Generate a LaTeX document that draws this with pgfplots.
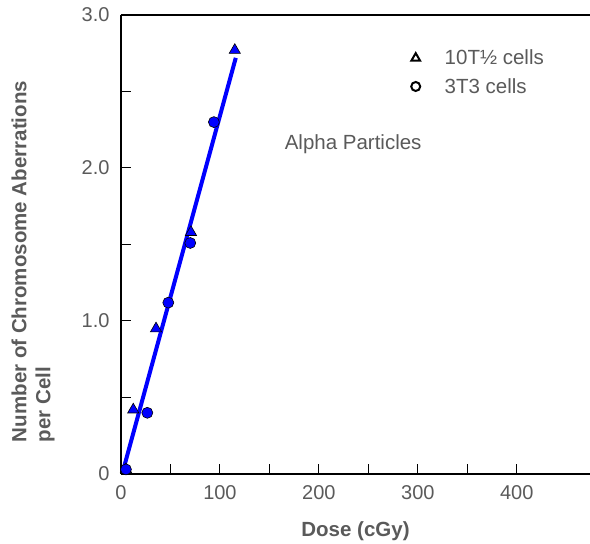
\documentclass[border=0pt]{standalone}
\usepackage{pgfplots}
\pgfplotsset{compat=1.18}
\usepackage{fontspec}
\setmainfont{Liberation Sans}
\definecolor{txtgray}{HTML}{5A5A5A}
\definecolor{pureblue}{RGB}{0,0,255}

\begin{document}
\begin{tikzpicture}
\begin{axis}[
    scale only axis,
    width=469pt, height=459pt,
    xmin=0, xmax=474,
    ymin=0, ymax=3,
    axis x line*=bottom,
    axis y line*=left,
    axis line style={black, line width=2.3pt},
    xtick={0,100,200,300,400},
    minor xtick={50,150,250,350},
    ytick={0,1,2,3},
    yticklabels={0,1.0,2.0,3.0},
    minor ytick={0.5,1.5,2.5},
    tick align=inside,
    major tick length=10pt,
    minor tick length=10pt,
    tick style={black, line width=1pt},
    /pgf/number format/assume math mode=true,
    ticklabel style={font=\fontsize{20}{24}\selectfont, text=txtgray},
    xticklabel style={yshift=-8pt},
    yticklabel style={xshift=-8pt},
    xlabel={\bfseries Dose (cGy)},
    xlabel style={at={(axis description cs:0.5,-0.124)}, anchor=center,
        font=\fontsize{20.5}{24}\selectfont, text=txtgray},
    ylabel={\bfseries Number of Chromosome Aberrations\\\bfseries per Cell},
    ylabel style={at={(axis description cs:-0.1876,0.463)}, anchor=center,
        align=left, font=\fontsize{20.5}{24}\selectfont, text=txtgray},
    legend style={at={(rel axis cs:0.612,0.933)}, anchor=north west, draw=none, fill=none,
        font=\fontsize{20.5}{24}\selectfont, text=txtgray, row sep=8pt},
    legend cell align=left,
    legend image code/.code={
        \path[draw=none, fill=none] (0pt,0pt) -- (27pt,0pt);
        \draw[#1] plot coordinates {(0pt,0pt)};
    },
    clip=false,
]
\addlegendimage{only marks, mark=triangle, mark size=5pt, black, line width=2pt}
\addlegendentry{10T½ cells}
\addlegendimage{only marks, mark=o, mark size=4.5pt, black, line width=2pt}
\addlegendentry{3T3 cells}

% 10T1/2 cells
\addplot[only marks, mark=triangle*, mark size=6.5pt,
    mark options={fill=pureblue, draw=black, line width=0.6pt}] coordinates {
    (5,0.03) (12.4,0.42) (35.4,0.95) (70.7,1.58) (115,2.77)
};
% 3T3 cells
\addplot[only marks, mark=*, mark size=5.5pt,
    mark options={fill=pureblue, draw=black, line width=0.6pt}] coordinates {
    (5,0.03) (26.6,0.40) (47.8,1.12) (70,1.51) (93.9,2.30)
};
% fit
\addplot[pureblue, line width=4pt, no marks] coordinates {(2,0.02) (116,2.72)};

\draw[line width=2.3pt] (rel axis cs:0,1) -- (rel axis cs:1,1);
\node[font=\fontsize{20.5}{24}\selectfont, text=txtgray] at (rel axis cs:0.495,0.718) {Alpha Particles};
\end{axis}
\pgfresetboundingbox
\path (-121pt,-70pt) rectangle (469pt,474pt);
\end{tikzpicture}
\end{document}
